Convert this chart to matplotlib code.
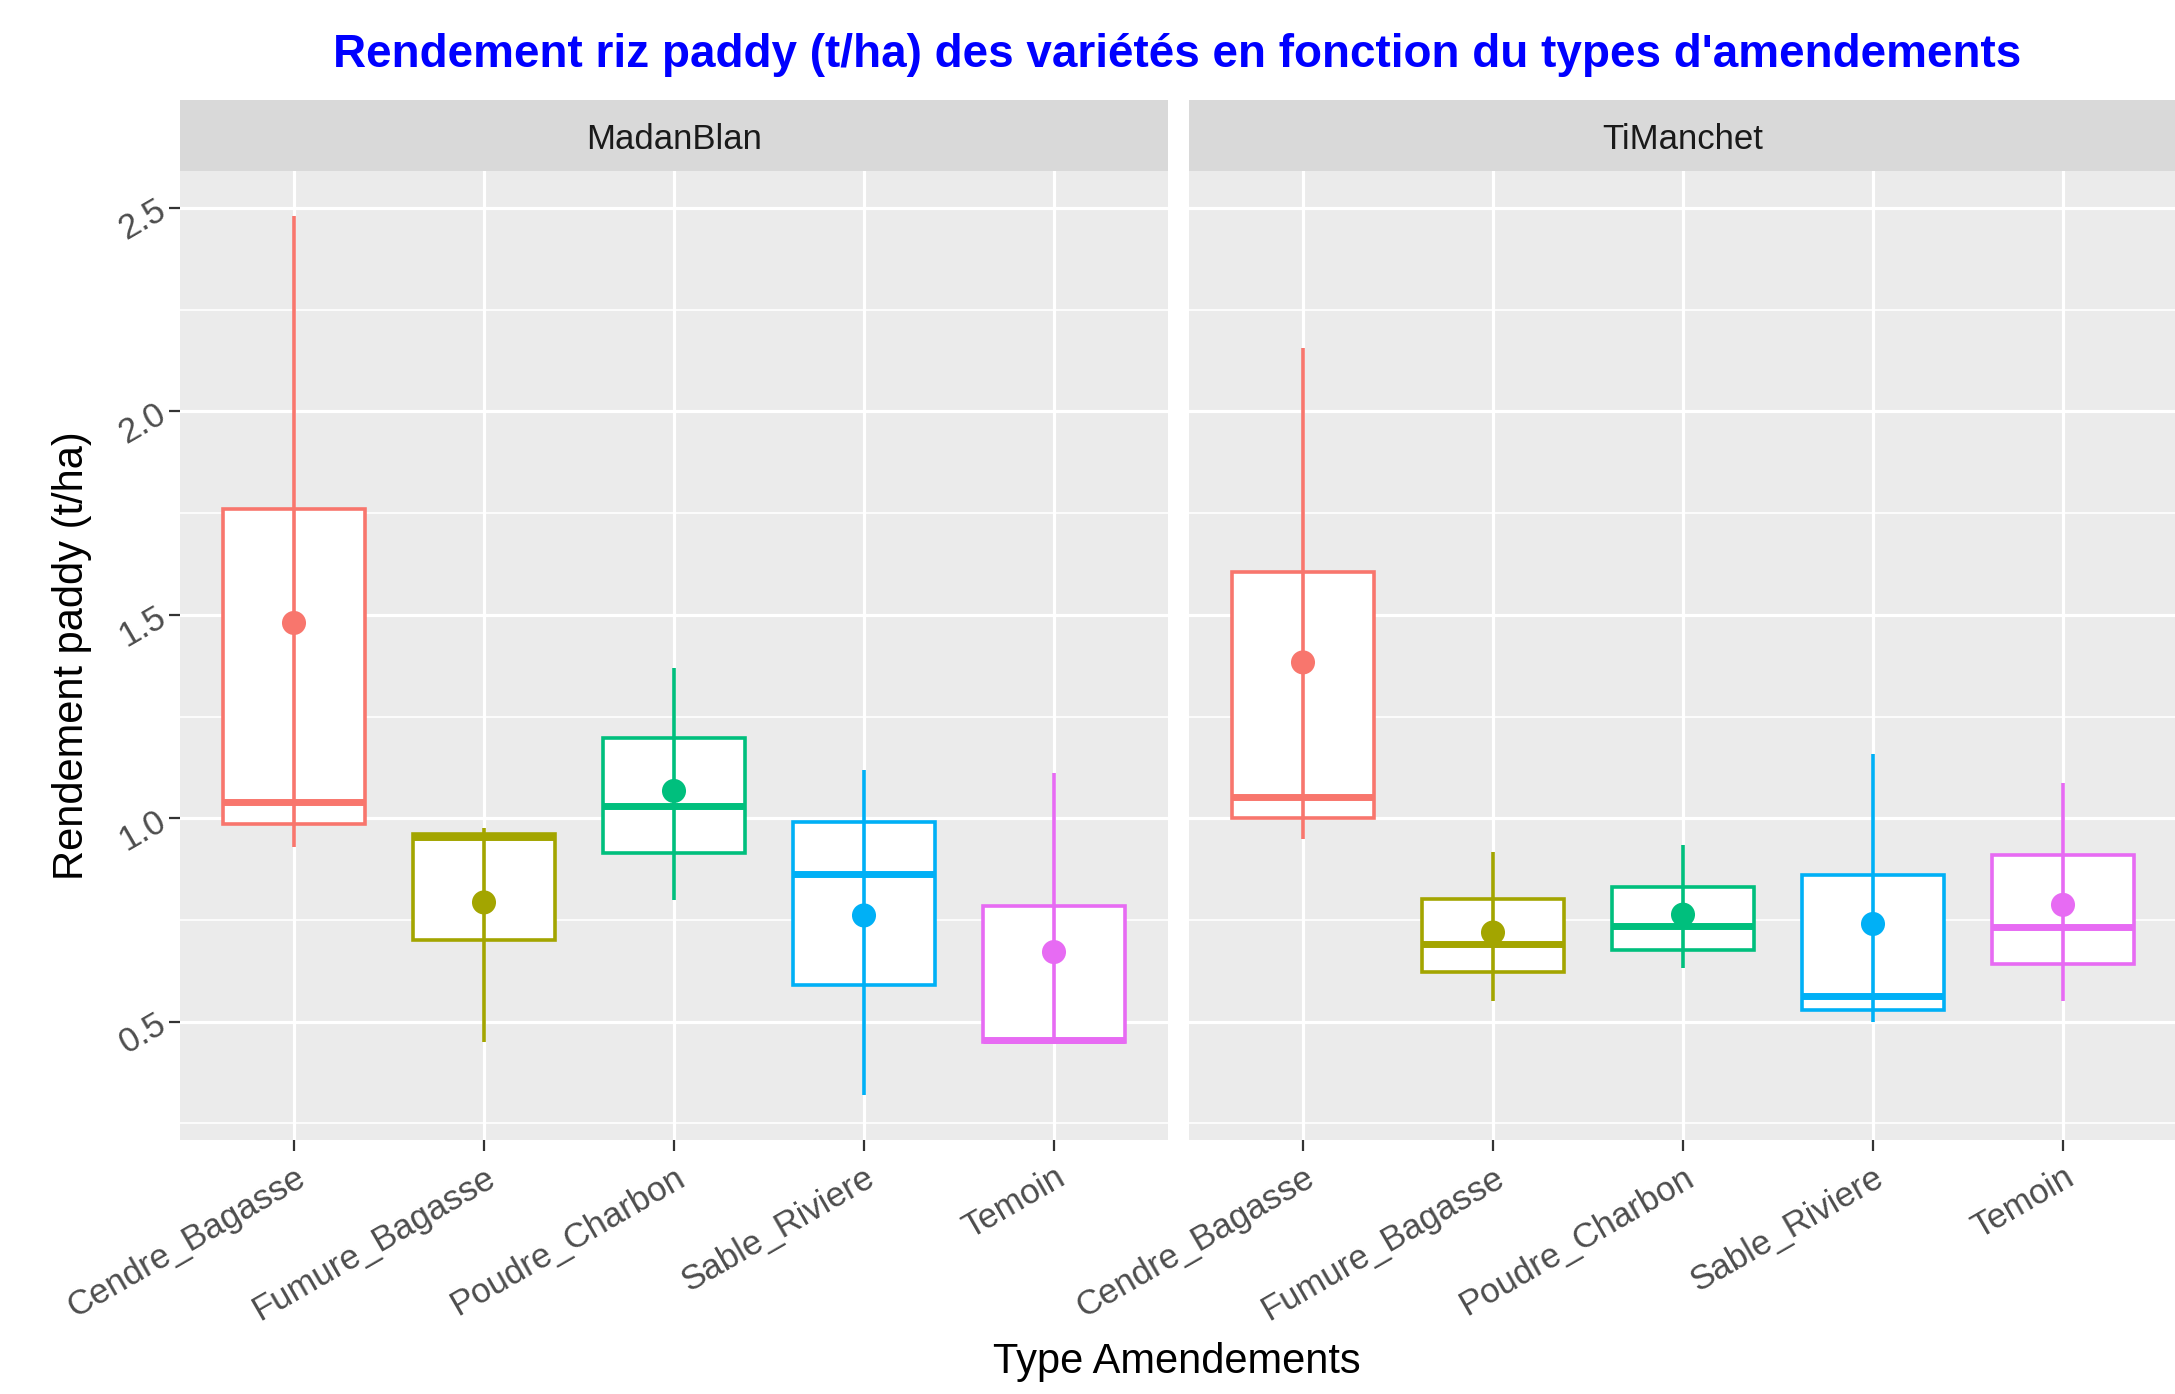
import numpy as np
import matplotlib.pyplot as plt

plt.rcParams['font.family'] = ['Liberation Sans', 'DejaVu Sans']

# ------------------------------------------------------
# Data
# ------------------------------------------------------
categories = ["Cendre_Bagasse", "Fumure_Bagasse", "Poudre_Charbon", "Sable_Riviere", "Temoin"]
varieties = ["MadanBlan", "TiManchet"]
colors = ["#F8766D", "#A3A500", "#00BF7D", "#00B0F6", "#E76BF3"]

madan_min    = [0.93, 0.45, 0.80, 0.32, 0.45]
madan_q1     = [0.985, 0.70, 0.915, 0.59, 0.45]
madan_median = [1.04, 0.955, 1.03, 0.863, 0.456]
madan_q3     = [1.76, 0.962, 1.196, 0.99, 0.785]
madan_max    = [2.48, 0.977, 1.369, 1.118, 1.11]
madan_mean   = [1.48, 0.793, 1.067, 0.761, 0.671]

timan_min    = [0.949, 0.55, 0.632, 0.50, 0.55]
timan_q1     = [1.001, 0.621, 0.677, 0.528, 0.641]
timan_median = [1.051, 0.691, 0.735, 0.563, 0.732]
timan_q3     = [1.606, 0.802, 0.832, 0.86, 0.91]
timan_max    = [2.156, 0.918, 0.935, 1.157, 1.087]
timan_mean   = [1.383, 0.719, 0.763, 0.74, 0.787]

panels = [
    (madan_min, madan_q1, madan_median, madan_q3, madan_max, madan_mean),
    (timan_min, timan_q1, timan_median, timan_q3, timan_max, timan_mean),
]

# ------------------------------------------------------
# Figure layout (ggplot-like facets)
# ------------------------------------------------------
W, H = 2175, 1394
fig = plt.figure(figsize=(W / 100, H / 100), dpi=100)

panel_left = [180 / W, 1189 / W]
panel_w = 988 / W
panel_bottom = 1 - 1140 / H
panel_h = (1140 - 171) / H
strip_h = 71 / H

x = np.arange(1, len(categories) + 1)
box_w = 0.75

for i, (vmin, q1, med, q3, vmax, mean) in enumerate(panels):
    ax = fig.add_axes([panel_left[i], panel_bottom, panel_w, panel_h])
    ax.set_facecolor("#EBEBEB")
    for s in ax.spines.values():
        s.set_visible(False)

    ax.set_xlim(0.4, 5.6)
    ax.set_ylim(0.209, 2.591)
    ax.set_yticks([0.5, 1.0, 1.5, 2.0, 2.5])
    ax.set_yticks([0.25, 0.75, 1.25, 1.75, 2.25], minor=True)
    ax.set_xticks(x)
    ax.grid(True, which="major", color="white", linewidth=2.3)
    ax.grid(True, which="minor", axis="y", color="white", linewidth=1.2)
    ax.set_axisbelow(True)
    ax.tick_params(axis="both", which="major", length=8, width=1.6, color="#333333",
                   labelsize=25, labelcolor="#4D4D4D", pad=4)
    ax.tick_params(axis="x", pad=7)
    ax.tick_params(axis="y", which="minor", length=0)

    q1a, q3a = np.array(q1), np.array(q3)
    ax.bar(x, q3a - q1a, bottom=q1a, width=box_w, facecolor="white",
           edgecolor=colors, linewidth=2.6, zorder=2)
    ax.vlines(x, vmin, vmax, colors=colors, linewidth=2.6, zorder=3)
    ax.hlines(med, x - box_w / 2, x + box_w / 2, colors=colors, linewidth=5, zorder=4)
    ax.scatter(x, mean, s=300, c=colors, zorder=5, linewidths=0)

    ax.set_xticklabels(categories, rotation=30, ha="right", va="top",
                       rotation_mode="anchor")
    if i == 0:
        ax.set_yticklabels(["0.5", "1.0", "1.5", "2.0", "2.5"], rotation=30,
                           ha="right", va="center", rotation_mode="anchor")
    else:
        ax.tick_params(axis="y", labelleft=False, length=0)

    # facet strip
    sax = fig.add_axes([panel_left[i], panel_bottom + panel_h, panel_w, strip_h])
    sax.set_facecolor("#D9D9D9")
    sax.set_xticks([])
    sax.set_yticks([])
    for s in sax.spines.values():
        s.set_visible(False)
    sax.text(0.5, 0.45, varieties[i], ha="center", va="center", fontsize=25,
             color="#1A1A1A", transform=sax.transAxes)

fig.text(0.541, 0.9605, "Rendement riz paddy (t/ha) des variétés en fonction du types d'amendements",
         ha="center", va="center", fontsize=33, fontweight="bold", color="#0000FF")
fig.text(0.541, 0.023, "Type Amendements", ha="center", va="center", fontsize=30, color="black")
fig.text(0.033, panel_bottom + panel_h / 2, "Rendement paddy (t/ha)", ha="center", va="center",
         rotation=90, fontsize=30, color="black")

fig.savefig("out.png", dpi=100)
